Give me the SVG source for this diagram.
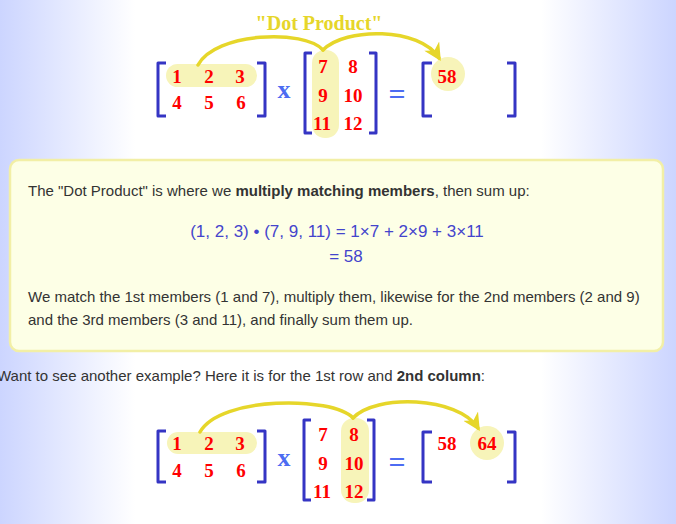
<svg xmlns="http://www.w3.org/2000/svg" width="676" height="524" viewBox="0 0 676 524">
<defs>
<linearGradient id="bg" x1="0" y1="0" x2="676" y2="0" gradientUnits="userSpaceOnUse">
<stop offset="0" stop-color="#ccd5ff"/>
<stop offset="0.2" stop-color="#ffffff"/>
<stop offset="0.8" stop-color="#ffffff"/>
<stop offset="1" stop-color="#ccd5ff"/>
</linearGradient>
<marker id="ah" viewBox="0 0 10 10" refX="8" refY="5" markerWidth="5" markerHeight="5" orient="auto" markerUnits="strokeWidth">
<path d="M0,0 L10,5 L0,10 L3,5 z" fill="#e6d62a"/>
</marker>
<style>
.br{fill:none;stroke:#3535c4;stroke-width:3;stroke-linejoin:round}
.hl{fill:#f7f4b9}
.n{font-family:"Liberation Serif",serif;font-weight:bold;font-size:19px;fill:#ff0000;text-anchor:middle}
.op{font-family:"Liberation Serif",serif;font-weight:bold;fill:#4d6cf2;text-anchor:middle}
.arc{fill:none;stroke:#e6d62a;stroke-width:3.5;stroke-linecap:round}
.t{font-family:"Liberation Sans",Arial,sans-serif;font-size:15px;fill:#333333}
.f{font-family:"Liberation Sans",Arial,sans-serif;font-size:17px;fill:#4444cc;text-anchor:middle}
</style>
</defs>
<rect width="676" height="524" fill="url(#bg)"/>

<text x="319" y="30" font-family="Liberation Serif,serif" font-weight="bold" font-size="20" fill="#e6d62a" text-anchor="middle">"Dot Product"</text>

<g id="matrixA1">
<rect class="hl" x="166" y="64" width="91" height="23" rx="11.5"/>
<path class="br" d="M166,63 H158 V116 H166"/>
<path class="br" d="M257,63 H265 V116 H257"/>
<text class="n" x="177" y="83">1</text><text class="n" x="209" y="83">2</text><text class="n" x="240" y="83">3</text>
<text class="n" x="177" y="109">4</text><text class="n" x="209" y="109">5</text><text class="n" x="241" y="109">6</text>
</g>
<g id="times1"><text class="op" x="284" y="98" font-size="26">x</text></g>
<g id="matrixB1">
<rect class="hl" x="312" y="50" width="27" height="88" rx="13"/>
<path class="br" d="M312,53 H305 V133 H312"/>
<path class="br" d="M369,53 H376 V133 H369"/>
<text class="n" x="323" y="73">7</text><text class="n" x="353" y="73">8</text>
<text class="n" x="323" y="102">9</text><text class="n" x="353" y="102">10</text>
<text class="n" x="322" y="130">11</text><text class="n" x="353" y="130">12</text>
</g>
<g id="eq1"><text class="op" x="397" y="104" font-size="30" font-weight="normal">=</text></g>
<g id="result1">
<circle class="hl" cx="448" cy="74" r="17"/>
<path class="br" d="M432,63 H423 V116 H432"/>
<path class="br" d="M507,63 H515 V116 H507"/>
<text class="n" x="447" y="83">58</text>
</g>

<g id="panel">
<rect x="10" y="160" width="653" height="191" rx="9" fill="#fdffe6" stroke="#f2efa6" stroke-width="2.5"/>
<text class="t" x="28" y="196">The "Dot Product" is where we <tspan font-weight="bold">multiply matching members</tspan>, then sum up:</text>
<text class="f" x="337" y="237">(1, 2, 3) • (7, 9, 11) = 1×7 + 2×9 + 3×11</text>
<text class="f" x="346" y="262">= 58</text>
<text class="t" x="28" y="302">We match the 1st members (1 and 7), multiply them, likewise for the 2nd members (2 and 9)</text>
<text class="t" x="28" y="325">and the 3rd members (3 and 11), and finally sum them up.</text>
</g>

<text class="t" x="-3" y="381">Want to see another example? Here it is for the 1st row and <tspan font-weight="bold">2nd column</tspan>:</text>

<g id="matrixA2">
<rect class="hl" x="167" y="432" width="90" height="22" rx="11"/>
<path class="br" d="M166,431 H158 V482 H166"/>
<path class="br" d="M257,431 H265 V482 H257"/>
<text class="n" x="177" y="450">1</text><text class="n" x="209" y="450">2</text><text class="n" x="240" y="450">3</text>
<text class="n" x="177" y="477">4</text><text class="n" x="209" y="477">5</text><text class="n" x="241" y="477">6</text>
</g>
<g id="times2"><text class="op" x="284" y="466" font-size="26">x</text></g>
<g id="matrixB2">
<rect class="hl" x="341" y="418" width="28" height="85" rx="13"/>
<path class="br" d="M311,420 H304 V500 H311"/>
<path class="br" d="M367,420 H374 V500 H367"/>
<text class="n" x="323" y="441">7</text><text class="n" x="354" y="441">8</text>
<text class="n" x="323" y="470">9</text><text class="n" x="354" y="470">10</text>
<text class="n" x="322" y="498">11</text><text class="n" x="354" y="498">12</text>
</g>
<g id="eq2"><text class="op" x="397" y="472" font-size="30" font-weight="normal">=</text></g>
<g id="result2">
<circle class="hl" cx="487" cy="443" r="17"/>
<path class="br" d="M432,432 H423 V482 H432"/>
<path class="br" d="M507,432 H515 V482 H507"/>
<text class="n" x="447" y="450">58</text>
<text class="n" x="487" y="450">64</text>
</g>

<g id="connectors">
<path class="arc" d="M198,65 C 215,32 305,29 323,50"/>
<path class="arc" d="M323,50 C 345,27 420,27 439,58" marker-end="url(#ah)"/>
<path class="arc" d="M200,432 C 220,396 332,396 353,418"/>
<path class="arc" d="M353,418 C 375,394 458,396 478,428" marker-end="url(#ah)"/>
</g>
</svg>
